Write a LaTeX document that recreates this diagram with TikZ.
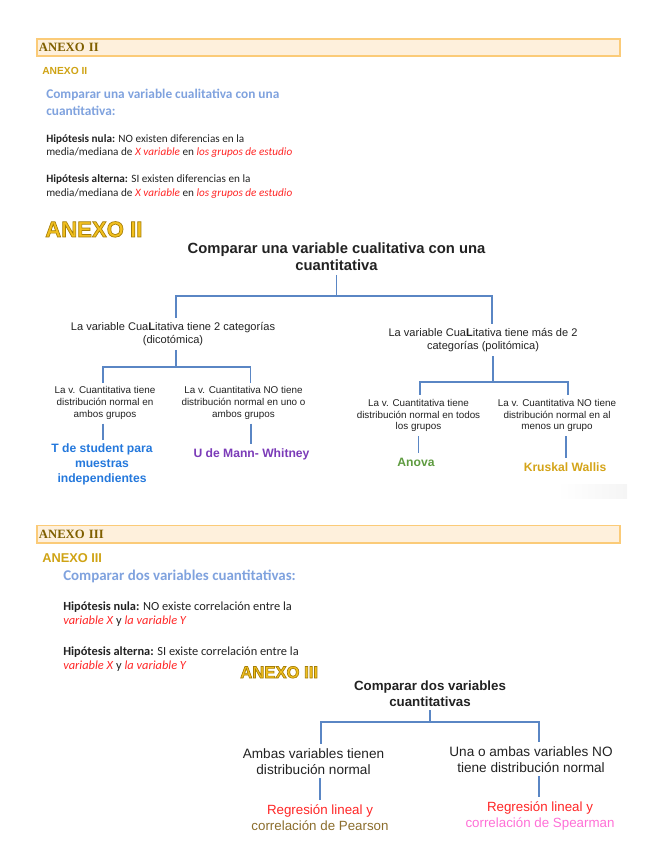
\documentclass[tikz,border=0pt]{standalone}
\usepackage{fontspec}
\setmainfont{Carlito}
\newfontfamily\arialf{Liberation Sans}
\newfontfamily\timesf{Liberation Serif}
\usetikzlibrary{positioning}
\definecolor{bannerfill}{HTML}{FEF0DC}
\definecolor{bannerline}{HTML}{FBCB78}
\definecolor{bannertext}{HTML}{7F5F00}
\definecolor{annexgold}{HTML}{CFA315}
\definecolor{biggold}{HTML}{F2C01E}
\definecolor{headblue}{HTML}{7FA2DE}
\definecolor{hypred}{HTML}{FF2525}
\definecolor{treeblue}{HTML}{5A86C4}
\definecolor{tblue}{HTML}{2478DC}
\definecolor{upurple}{HTML}{7B3BB8}
\definecolor{anovagreen}{HTML}{5E9B40}
\definecolor{kwgold}{HTML}{D4A419}
\definecolor{pearson}{HTML}{8B6D2C}
\definecolor{spearman}{HTML}{FF6FD6}
\definecolor{darktext}{HTML}{222222}
\newcommand{\fsz}[2]{\fontsize{#1}{#2}\selectfont}
% gold letters with a darker rim
\newcommand{\outlined}[1]{\special{pdf:literal 2 Tr 0.5 w 0.647 0.494 0.031 RG}#1\special{pdf:literal 0 Tr}}

\begin{document}
\begin{tikzpicture}[
  x=0.75pt, y=-0.75pt,
  banner/.style={draw=bannerline, fill=bannerfill, line width=1.2pt, anchor=west,
    minimum width=437.25pt, minimum height=12.75pt, inner xsep=1.5pt, text width=434pt,
    align=left, font=\timesf\bfseries\fsz{9.5pt}{11pt}, text=bannertext},
  annex/.style={anchor=base west, inner sep=0pt, font=\arialf\bfseries\fsz{7.7pt}{9pt}, text=annexgold},
  heading/.style={anchor=base west, inner sep=0pt, align=left, font=\bfseries\fsz{10pt}{12.75pt}, text=headblue},
  hyp/.style={anchor=base west, inner sep=0pt, align=left, font=\fsz{8.4pt}{10pt}, text=darktext},
  bigannex/.style={anchor=base west, inner sep=0pt, font=\arialf\bfseries\fsz{16.6pt}{18pt}, text=biggold},
  ttl/.style={anchor=base, align=center, inner sep=3pt, font=\arialf\bfseries\fsz{11.1pt}{12.75pt}, text=darktext},
  branch/.style={anchor=base, align=center, inner sep=3pt, font=\arialf\fsz{8.3pt}{9.75pt}, text=darktext},
  leaf/.style={anchor=base, align=center, inner sep=3pt, font=\arialf\fsz{7.4pt}{8.8pt}, text=darktext},
  result/.style={anchor=base, align=center, inner sep=3pt, font=\arialf\bfseries\fsz{9.1pt}{10.9pt}},
  tree/.style={draw=treeblue, line width=1.1pt}
]
\useasboundingbox (0,0) rectangle (655,848);

% ANEXO II
\node[banner] (ban1) at (36,47.5) {ANEXO II};
\node[annex] (ax1) at (42,74.5) {ANEXO II};
\node[heading] (hd1) at (46,115.4) {Comparar una variable cualitativa con una\\cuantitativa:};
\node[hyp] (h0a) at (46,156) {\textbf{Hipótesis nula:} NO existen diferencias en la\\
  media/mediana de \textcolor{hypred}{\textit{X variable}} en \textcolor{hypred}{\textit{los grupos de estudio}}};
\node[hyp] (h1a) at (46,196.3) {\textbf{Hipótesis alterna:} SI existen diferencias en la\\
  media/mediana de \textcolor{hypred}{\textit{X variable}} en \textcolor{hypred}{\textit{los grupos de estudio}}};
\node[bigannex] (big1) at (45,237) {\outlined{ANEXO II}};

\node[ttl] (cmp1) at (336.5,270.4) {Comparar una variable cualitativa con una\\cuantitativa};
\node[branch] (dic) at (173,343.3) {La variable Cua\textbf{L}itativa tiene 2 categorías\\(dicotómica)};
\node[branch] (pol) at (483,349.5) {La variable Cua\textbf{L}itativa tiene más de 2\\categorías (politómica)};
\node[leaf] (ll) at (105,417.4) {La v. Cuantitativa tiene\\distribución normal en\\ambos grupos};
\node[leaf] (lr) at (243.5,417.4) {La v. Cuantitativa NO tiene\\distribución normal en uno o\\ambos grupos};
\node[leaf] (rl) at (418.5,429.8) {La v. Cuantitativa tiene\\distribución normal en todos\\los grupos};
\node[leaf] (rr) at (557,429.8) {La v. Cuantitativa NO tiene\\distribución normal en al\\menos un grupo};
\node[result, text=tblue] (tst) at (102,482) {T de student para\\muestras\\independientes};
\node[result, text=upurple] (umw) at (251.5,457) {U de Mann- Whitney};
\node[result, text=anovagreen] (anv) at (416,466) {Anova};
\node[result, text=kwgold] (krw) at (565,471) {Kruskal Wallis};

\coordinate (j1) at (336,296);
\coordinate (j2) at (176,367);
\coordinate (j3) at (493,382);
\draw[tree] (cmp1.south) -- (cmp1.south |- j1);
\draw[tree] ([xshift=2.25pt]dic.north) |- (j1) -| ([xshift=6.75pt]pol.north);
\draw[tree] ([xshift=2.25pt]dic.south) -- (j2);
\draw[tree] ([xshift=-1.5pt]ll.north) |- (j2) -| ([xshift=5.25pt]lr.north);
\draw[tree] ([xshift=7.5pt]pol.south) -- (j3);
\draw[tree] ([xshift=1.1pt]rl.north) |- (j3) -| ([xshift=8.25pt]rr.north);
\draw[tree] ([xshift=-1.5pt]ll.south) -- ([xshift=-1.5pt]ll.south |- tst.north);
\draw[tree] ([xshift=5.6pt]lr.south) -- ([xshift=5.6pt]lr.south |- umw.north);
\draw[tree] (rl.south) -- (rl.south |- anv.north);
\draw[tree] ([xshift=6.75pt]rr.south) -- ([xshift=6.75pt]rr.south |- krw.north);
\shade[left color=white, right color=black!4] (557,484) rectangle (627,498);

% ANEXO III
\node[banner] (ban2) at (36,534) {ANEXO III};
\node[annex, font=\arialf\bfseries\fsz{9.6pt}{11pt}] (ax2) at (42,562.6) {ANEXO III};
\node[heading, font=\bfseries\fsz{11.2pt}{13pt}] (hd2) at (63,580) {Comparar dos variables cuantitativas:};
\node[hyp, font=\fsz{9.3pt}{10.5pt}] (h0b) at (63,624) {\textbf{Hipótesis nula:} NO existe correlación entre la\\
  \textcolor{hypred}{\textit{variable X}} y \textcolor{hypred}{\textit{la variable Y}}};
\node[hyp, font=\fsz{9.3pt}{10.5pt}] (h1b) at (63,669) {\textbf{Hipótesis alterna:} SI existe correlación entre la\\
  \textcolor{hypred}{\textit{variable X}} y \textcolor{hypred}{\textit{la variable Y}}};
\node[bigannex, font=\arialf\bfseries\fsz{12.5pt}{14pt}] (big2) at (240,678) {\outlined{ANEXO III}};

\node[ttl, font=\arialf\bfseries\fsz{10pt}{12pt}] (cmp2) at (430,706) {Comparar dos variables\\cuantitativas};
\node[branch, font=\arialf\fsz{10.2pt}{12pt}] (amb) at (313.5,774) {Ambas variables tienen\\distribución normal};
\node[branch, font=\arialf\fsz{10.2pt}{12pt}] (una) at (531,772) {Una o ambas variables NO\\tiene distribución normal};
\node[result, font=\arialf\fsz{10pt}{12pt}] (prs) at (320,830) {\textcolor{hypred}{Regresión lineal y}\\\textcolor{pearson}{correlación de Pearson}};
\node[result, font=\arialf\fsz{10pt}{12pt}] (spr) at (540,827) {\textcolor{hypred}{Regresión lineal y}\\\textcolor{spearman}{correlación de Spearman}};

\coordinate (j4) at (430,722);
\draw[tree] (cmp2.south) -- (j4);
\draw[tree] ([xshift=5.6pt]amb.north) |- (j4) -| ([xshift=6pt]una.north);
\draw[tree] ([xshift=4.9pt]amb.south) -- ([xshift=4.9pt]amb.south |- prs.north);
\draw[tree] ([xshift=6pt]una.south) -- ([xshift=6pt]una.south |- spr.north);
\end{tikzpicture}
\end{document}
